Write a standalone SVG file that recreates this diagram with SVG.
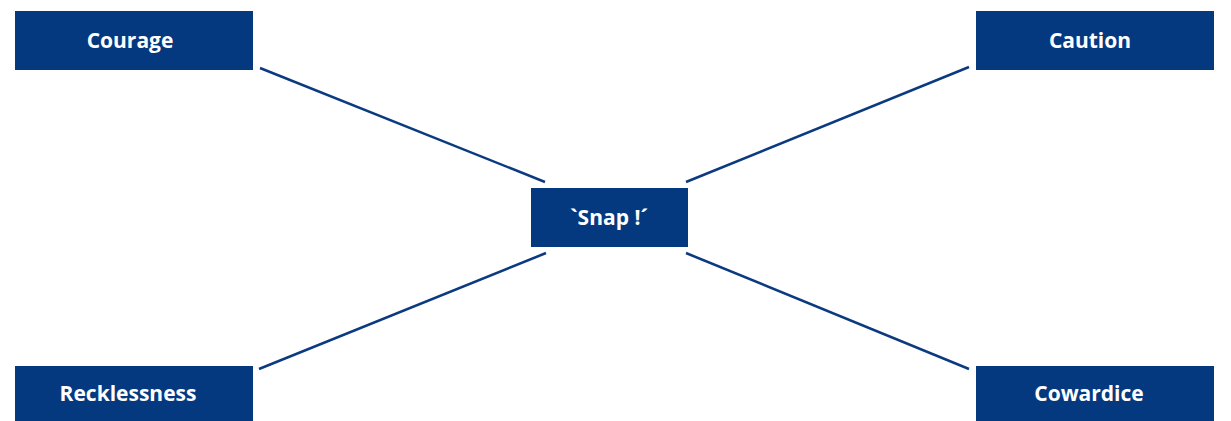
<svg xmlns="http://www.w3.org/2000/svg" width="1231" height="421" viewBox="0 0 1231 421">
<style>
.box{fill:#05397f}
.lbl{fill:#ffffff;font-family:"Open Sans","Noto Sans",sans-serif;font-weight:bold;font-size:21px;text-anchor:middle}
.con{stroke:#0b3a80;stroke-width:2.5;fill:none}
</style>
<rect width="1231" height="421" fill="#ffffff"/>
<g id="connectors">
<line class="con" x1="260" y1="68" x2="545" y2="182"/>
<line class="con" x1="969" y1="67" x2="686" y2="182"/>
<line class="con" x1="546" y1="253" x2="259" y2="369"/>
<line class="con" x1="686" y1="253" x2="969" y2="369"/>
</g>
<g id="courage"><rect class="box" x="15" y="11" width="238" height="59"/><text class="lbl" x="130" y="48">Courage</text></g>
<g id="caution"><rect class="box" x="976" y="11" width="238" height="59"/><text class="lbl" x="1090" y="48">Caution</text></g>
<g id="snap"><rect class="box" x="531" y="188" width="157" height="59"/><text class="lbl" x="609" y="225">`Snap !´</text></g>
<g id="recklessness"><rect class="box" x="15" y="366" width="238" height="59"/><text class="lbl" x="128" y="401">Recklessness</text></g>
<g id="cowardice"><rect class="box" x="976" y="366" width="238" height="59"/><text class="lbl" x="1089" y="401">Cowardice</text></g>
</svg>
